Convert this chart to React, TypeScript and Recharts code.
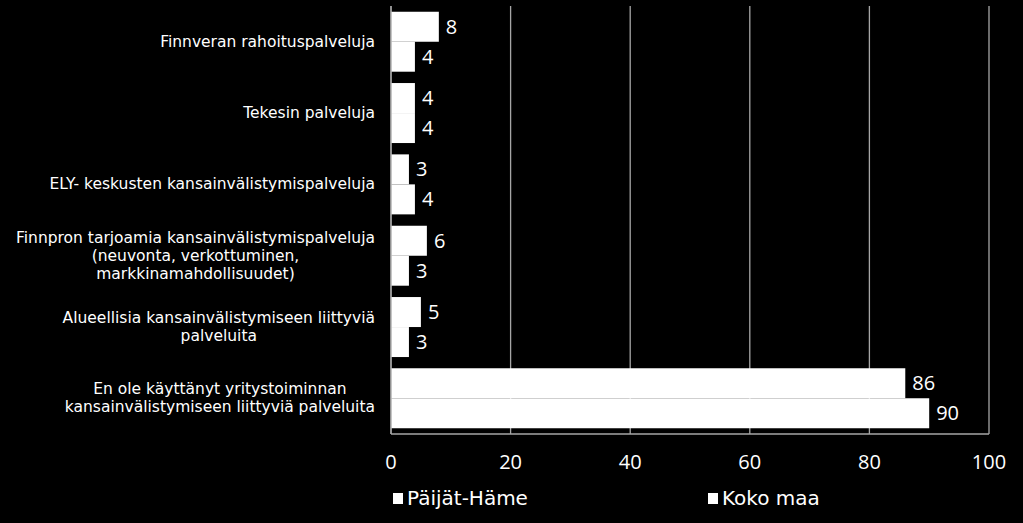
import { BarChart, Bar, XAxis, YAxis, CartesianGrid, LabelList, Legend } from 'recharts'

const FONT = '"DejaVu Sans", Tahoma, sans-serif'
const NUM_FONT = '"Open Sans", "DejaVu Sans", sans-serif'

const categories = [
  'Finnveran rahoituspalveluja',
  'Tekesin palveluja',
  'ELY- keskusten kansainvälistymispalveluja',
  'Finnpron tarjoamia kansainvälistymispalveluja\n(neuvonta, verkottuminen,\nmarkkinamahdollisuudet)',
  'Alueellisia kansainvälistymiseen liittyviä\npalveluita',
  'En ole käyttänyt yritystoiminnan\nkansainvälistymiseen liittyviä palveluita',
]
const paijatHame = [8, 4, 3, 6, 5, 86]
const kokoMaa = [4, 4, 4, 3, 3, 90]
const xTicks = [0, 20, 40, 60, 80, 100]
const seriesNames = ['Päijät-Häme', 'Koko maa']

const data = categories.map((c, i) => ({ name: c, ph: paijatHame[i], km: kokoMaa[i] }))

let ctx: CanvasRenderingContext2D | null = null
function measure(text: string, size: number) {
  if (!ctx) ctx = document.createElement('canvas').getContext('2d')
  if (!ctx) return text.length * size * 0.5
  ctx.font = `${size}px ${FONT}`
  return ctx.measureText(text).width
}

function CategoryTick(props: any) {
  const { x, y, payload } = props
  const lines = String(payload.value).split('\n')
  const size = 15.5
  const lh = 18
  const w = Math.max(...lines.map(l => measure(l, size)))
  const cx = x - 8 - w / 2
  const y0 = y - ((lines.length - 1) * lh) / 2
  return (
    <text x={cx} y={y0} fill="#fff" fontSize={size} fontFamily={FONT} textAnchor="middle" dominantBaseline="central">
      {lines.map((l, i) => (
        <tspan key={i} x={cx} y={y0 + i * lh}>{l}</tspan>
      ))}
    </text>
  )
}

function LegendContent() {
  const starts = [393, 708]
  return (
    <div style={{ position: 'relative', height: 39, fontFamily: FONT, fontSize: 20, color: '#fff' }}>
      {seriesNames.map((n, i) => (
        <div key={n} style={{ position: 'absolute', left: starts[i], top: 2, display: 'flex', alignItems: 'center', lineHeight: '24px' }}>
          <span style={{ width: 10, height: 11, background: '#fff', display: 'inline-block', marginRight: 4 }} />
          <span>{n}</span>
        </div>
      ))}
    </div>
  )
}

export default function App() {
  return (
    <div style={{ position: 'fixed', left: 0, top: 0, width: 1023, height: 523, background: '#000', overflow: 'hidden' }}>
      <BarChart
        width={1023}
        height={523}
        data={data}
        layout="vertical"
        margin={{ top: 6, right: 34, bottom: 0, left: 0 }}
        barCategoryGap="8%"
        barGap={0}
      >
        <CartesianGrid horizontal={false} stroke="#a6a6a6" strokeWidth={1.3} />
        <XAxis
          type="number"
          domain={[0, 100]}
          ticks={xTicks}
          height={50}
          tickLine={false}
          axisLine={{ stroke: '#a6a6a6', strokeWidth: 1.3 }}
          tickMargin={15}
          tick={{ fill: '#fff', fontSize: 20, fontFamily: NUM_FONT }}
        />
        <XAxis
          xAxisId="top"
          orientation="top"
          type="number"
          domain={[0, 100]}
          height={0}
          tick={false}
          tickLine={false}
          axisLine={{ stroke: '#a6a6a6', strokeWidth: 1.3 }}
        />
        <YAxis
          type="category"
          dataKey="name"
          width={391}
          tickLine={false}
          axisLine={{ stroke: '#a6a6a6', strokeWidth: 1.3 }}
          tick={<CategoryTick />}
          interval={0}
        />
        <Legend verticalAlign="bottom" height={39} content={<LegendContent />} />
        <Bar dataKey="ph" name={seriesNames[0]} fill="#fff" isAnimationActive={false}>
          <LabelList dataKey="ph" position="right" offset={7} fill="#fff" fontSize={20} fontFamily={NUM_FONT} />
        </Bar>
        <Bar dataKey="km" name={seriesNames[1]} fill="#fff" isAnimationActive={false}>
          <LabelList dataKey="km" position="right" offset={7} fill="#fff" fontSize={20} fontFamily={NUM_FONT} />
        </Bar>
      </BarChart>
    </div>
  )
}
